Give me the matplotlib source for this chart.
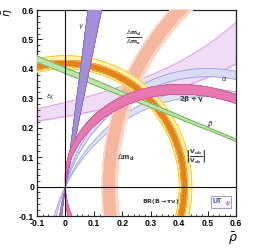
import numpy as np
import matplotlib
matplotlib.use("Agg")
import matplotlib.pyplot as plt
from matplotlib.patches import Rectangle

plt.rcParams['font.family'] = ['Liberation Sans', 'DejaVu Sans']
plt.rcParams['mathtext.fontset'] = 'dejavusans'

## constraint ranges
gamma_deg = [78.0, 82.5]            # angle at (0,0)
beta_deg = [21.0, 22.0]             # angle at (1,0), sin2beta
alpha_deg_1 = [102.5, 106.5]        # alpha, first solution
alpha_deg_2 = [113.0, 117.0]        # alpha, second solution
twob_g_deg = [88.5, 96.3]           # 2beta+gamma (with tilt below)
twob_g_tilt = 12.0                  # deg per unit rho, bends the band like the picture
dm_light = [0.816, 0.872]           # Delta m_d ring around (1,0)
dm_dark = [0.828, 0.866]            # Delta m_d / Delta m_s
vub_ring = [0.400, 0.445]           # |Vub/Vcb| ring around (0,0)
btau_ring = [0.407, 0.430]          # BR(B -> tau nu)
btau_core = [0.411, 0.425]
# eps_K edges as eta = c / (a - rho)
epsK_lower = (0.334, 1.40)
epsK_upper = (0.352, 1.23)

xticks = [-0.1, 0, 0.1, 0.2, 0.3, 0.4, 0.5, 0.6]
xticklabels = ['-0.1', '0', '0.1', '0.2', '0.3', '0.4', '0.5', '0.6']
yticks = xticks
yticklabels = xticklabels


## grids: upper half and lower strip kept apart so the angles stay continuous
def fields(eta_lo, eta_hi, n_eta):
    rho = np.linspace(-0.1, 0.6, 800)
    eta = np.linspace(eta_lo, eta_hi, n_eta)
    R, E = np.meshgrid(rho, eta)
    gam = np.degrees(np.arctan2(E, R))
    bet = np.degrees(np.arctan2(E, 1 - R))
    f = {}
    f['R'], f['E'] = R, E
    f['beta'] = bet
    if eta_hi <= 0:
        f['gamma'] = np.degrees(np.arctan2(-E, -R))
        f['alpha'] = 180 - bet - gam - 180
    else:
        f['gamma'] = gam
        f['alpha'] = 180 - bet - gam
    f['tbg'] = np.abs(2 * bet + gam) - twob_g_tilt * R
    f['r0'] = np.sqrt(R**2 + E**2)
    f['r1'] = np.sqrt((1 - R)**2 + E**2)
    return f


grids = [fields(0.0, 0.6, 700), fields(-0.1, -1e-6, 120)]

fig = plt.figure(figsize=(2.54, 2.49), dpi=100)
ax = fig.add_axes([37/254, 33/249, 199/254, 206/249])


def band(key, lev, fc, ec=None, lw=0.5, z=1):
    for g in grids:
        ax.contourf(g['R'], g['E'], g[key], levels=lev, colors=[fc], zorder=z)
        if ec is not None:
            ax.contour(g['R'], g['E'], g[key], levels=lev, colors=[ec], linewidths=lw, zorder=z)


# eps_K
x = np.linspace(-0.1, 0.6, 300)
lo = epsK_lower[0] / (epsK_lower[1] - x)
hi = epsK_upper[0] / (epsK_upper[1] - x)
ax.fill_between(x, lo, hi, color='#f1dcf6', zorder=1)
ax.plot(x, lo, color='#d592e3', lw=0.6, zorder=1)
ax.plot(x, hi, color='#d592e3', lw=0.6, zorder=1)

# alpha
band('alpha', alpha_deg_1, '#d9dcf2', '#9aa0e6', 0.6, 2)
band('alpha', alpha_deg_2, '#dfe1f4', '#a4aae8', 0.6, 2)

# Delta m
band('r1', dm_light, '#fbd5c6', None, z=3)
band('r1', dm_dark, '#f5b7a0', None, z=3)

# Vub/Vcb and B->tau nu
band('r0', vub_ring, '#fff1a8', '#f3c416', 0.6, 4)
band('r0', btau_ring, '#f3a94a', None, z=4)
band('r0', btau_core, '#e5831b', None, z=4)

# beta
band('beta', beta_deg, '#bfe2aa', '#62b04a', 0.6, 5)

# gamma
band('gamma', gamma_deg, '#a58fdb', '#7b62c6', 0.5, 6)

# 2beta+gamma
band('tbg', twob_g_deg, '#e679b0', '#cd5294', 0.5, 7)

ax.axvline(0, color='#111111', lw=0.8, zorder=8)
ax.axhline(0, color='#111111', lw=0.8, zorder=8)

# labels
tc = '#333333'
ax.text(0.057, 0.545, r'$\gamma$', fontsize=5, color=tc, ha='center', va='center', zorder=9)
ax.text(0.241, 0.507, r'$\frac{\Delta \mathbf{m_d}}{\Delta \mathbf{m_s}}$', fontsize=6, color=tc,
        ha='center', va='center', zorder=9)
ax.text(0.558, 0.364, r'$\alpha$', fontsize=5, color=tc, ha='center', va='center', zorder=9)
ax.text(0.444, 0.298, r'$\mathbf{2\beta+\gamma}$', fontsize=5, color=tc, ha='center', va='center', zorder=9)
ax.text(0.509, 0.213, r'$\beta$', fontsize=5, color=tc, ha='center', va='center', zorder=9)
ax.text(-0.052, 0.302, r'$\varepsilon_K$', fontsize=5, color=tc, ha='center', va='center', zorder=9)
ax.text(0.212, 0.098, r'$\Delta \mathbf{m_d}$', fontsize=5, color=tc, ha='center', va='center', zorder=9)
ax.text(0.457, 0.103, r'$\left|\frac{\mathbf{V_{ub}}}{\mathbf{V_{cb}}}\right|$', fontsize=6, color=tc,
        ha='center', va='center', zorder=9)
ax.text(0.334, -0.052, r'$\mathbf{BR(B\rightarrow\tau\nu)}$', fontsize=4.5, color=tc,
        ha='center', va='center', zorder=9)

# UTfit logo
ax.add_patch(Rectangle((0.513, -0.073), 0.07, 0.04, fc='#f4f4fa', ec='#8a8fc0', lw=0.6, zorder=9))
ax.text(0.517, -0.052, 'UT', fontsize=5, color='#34449c', fontweight='bold', ha='left', va='center', zorder=10)
ax.text(0.582, -0.058, 'fit', fontsize=4.5, color='#d23a3a', style='italic', ha='right', va='center', zorder=10)

ax.set_xlim(-0.1, 0.6)
ax.set_ylim(-0.1, 0.6)
ax.set_xticks(xticks)
ax.set_xticklabels(xticklabels)
ax.set_yticks(yticks)
ax.set_yticklabels(yticklabels)
ax.set_xticks(np.arange(-0.1, 0.601, 0.02), minor=True)
ax.set_yticks(np.arange(-0.1, 0.601, 0.02), minor=True)
ax.tick_params(which='major', direction='in', length=3.5, width=0.6, labelsize=6.2, pad=2)
ax.tick_params(which='minor', direction='in', length=1.8, width=0.5)
for lab in ax.get_xticklabels() + ax.get_yticklabels():
    lab.set_fontweight('bold')
for s in ax.spines.values():
    s.set_linewidth(0.9)
    s.set_color('#222222')

ax.text(-0.146, 0.985, r'$\bar{\eta}$', transform=ax.transAxes, fontsize=8, rotation=90,
        ha='center', va='center')
ax.text(0.985, -0.11, r'$\bar{\rho}$', transform=ax.transAxes, fontsize=9,
        ha='center', va='center')

fig.savefig('out.png', dpi=100)
